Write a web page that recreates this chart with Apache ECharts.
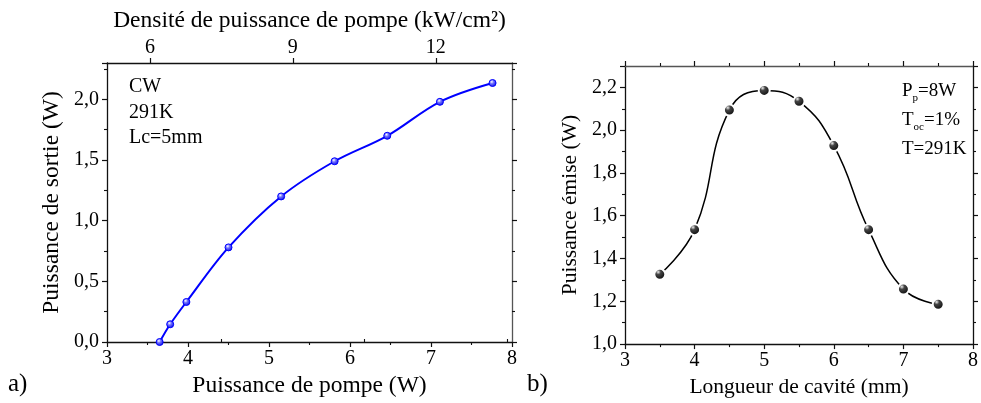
<!DOCTYPE html>
<html><head><meta charset="utf-8">
<script src="https://cdn.jsdelivr.net/npm/echarts@6/dist/echarts.min.js"></script>
<style>html,body{margin:0;padding:0;background:#fff}#c{width:981px;height:403px}</style>
</head><body><div id="c"></div>
<script>
// ---- data ----
const pumpPower = [3.65, 3.78, 3.98, 4.50, 5.15, 5.81, 6.46, 7.11, 7.76];
const outputPower = [0.00, 0.146, 0.33, 0.78, 1.20, 1.49, 1.70, 1.98, 2.135];
const densityTicks = [6, 9, 12];
const densityMinorTicks = [7.5, 10.5, 13.5];
const densityPerWatt = 1.7; // kW/cm2 per W of pump power
const cavityLength = [3.5, 4.0, 4.5, 5.0, 5.5, 6.0, 6.5, 7.0, 7.5];
const emittedPower = [1.326, 1.535, 2.094, 2.186, 2.135, 1.928, 1.535, 1.257, 1.186];
const annotA = ['CW', '291K', 'Lc=5mm'];

const F = "'Liberation Serif', 'Times New Roman', serif";
const AX = '#111';
const comma = (d) => (v) => v.toFixed(d).replace('.', ',');

const chart = echarts.init(document.getElementById('c'), null, {renderer: 'canvas'});

function baseAxis(extra) {
  return Object.assign({
    type: 'value',
    splitLine: {show: false},
    axisLine: {show: true, onZero: false, lineStyle: {color: AX, width: 1.3}},
    axisTick: {show: true, inside: false, length: 5, lineStyle: {color: AX, width: 1.2}},
    minorTick: {show: true, splitNumber: 2, length: 3, lineStyle: {color: AX, width: 1.1}},
    axisLabel: {show: true, fontFamily: F, fontSize: 20, color: '#000', margin: 7},
    nameTextStyle: {fontFamily: F, fontSize: 23.5, color: '#000'},
    nameLocation: 'middle'
  }, extra);
}
const smallName = {fontFamily: F, fontSize: 21.5, color: '#000'};

const blueBall = new echarts.graphic.RadialGradient(0.4, 0.35, 0.7, [
  {offset: 0, color: '#ffffff'}, {offset: 0.35, color: '#7070ff'}, {offset: 1, color: '#0000e0'}]);
const blackBall = new echarts.graphic.RadialGradient(0.38, 0.32, 0.7, [
  {offset: 0, color: '#f0f0f0'}, {offset: 0.28, color: '#444'}, {offset: 1, color: '#000'}]);

const option = {
  animation: false,
  backgroundColor: '#fff',
  grid: [
    {left: 107, top: 63, width: 405, height: 279},
    {left: 625, top: 66, width: 354, height: 282}
  ],
  xAxis: [
    baseAxis({gridIndex: 0, position: 'bottom', min: 3, max: 8, interval: 1,
      name: 'Puissance de pompe (W)', nameGap: 26}),
    baseAxis({gridIndex: 0, position: 'top', min: 3 * densityPerWatt, max: 8 * densityPerWatt,
      name: 'Densité de puissance de pompe (kW/cm²)', nameGap: 24,
      axisTick: {show: true, length: 5, customValues: densityTicks, lineStyle: {color: AX, width: 1.2}},
      axisLabel: {show: true, customValues: densityTicks, fontFamily: F, fontSize: 20, color: '#000', margin: 5},
      minorTick: {show: false}}),
    baseAxis({gridIndex: 0, position: 'top', min: 3 * densityPerWatt, max: 8 * densityPerWatt,
      axisLine: {show: false},
      axisTick: {show: true, length: 3, customValues: densityMinorTicks, lineStyle: {color: AX, width: 1.1}},
      axisLabel: {show: false}, minorTick: {show: false}}),
    baseAxis({gridIndex: 1, position: 'bottom', min: 3, max: 8, interval: 1,
      name: 'Longueur de cavité (mm)', nameGap: 28, nameTextStyle: smallName}),
    baseAxis({gridIndex: 1, position: 'top', min: 3, max: 8, interval: 1,
      axisLabel: {show: false}, axisLine: {show: true, onZero: false, lineStyle: {color: '#555', width: 1.3}}})
  ],
  yAxis: [
    baseAxis({gridIndex: 0, position: 'left', min: 0, max: 2.3, interval: 0.5,
      axisLabel: {show: true, showMaxLabel: false, formatter: comma(1), fontFamily: F, fontSize: 20, color: '#000', margin: 8},
      name: 'Puissance de sortie (W)', nameGap: 43}),
    baseAxis({gridIndex: 0, position: 'right', min: 0, max: 2.3, interval: 0.5,
      axisLabel: {show: false}, axisLine: {show: true, onZero: false, lineStyle: {color: '#555', width: 1.3}}}),
    baseAxis({gridIndex: 1, position: 'left', min: 1.0, max: 2.3, interval: 0.2,
      axisLabel: {show: true, showMaxLabel: false, formatter: comma(1), fontFamily: F, fontSize: 20, color: '#000', margin: 8},
      name: 'Puissance émise (W)', nameGap: 44, nameTextStyle: smallName}),
    baseAxis({gridIndex: 1, position: 'right', min: 1.0, max: 2.3, interval: 0.2,
      axisLabel: {show: false}})
  ],
  series: [
    {type: 'line', xAxisIndex: 0, yAxisIndex: 0, smooth: 0.35,
      data: pumpPower.map((x, i) => [x, outputPower[i]]),
      lineStyle: {color: '#0000ff', width: 2},
      symbol: 'circle', symbolSize: 7,
      itemStyle: {color: blueBall, borderColor: '#0000ff', borderWidth: 1}},
    {type: 'line', xAxisIndex: 3, yAxisIndex: 2, smooth: 0.45,
      data: cavityLength.map((x, i) => [x, emittedPower[i]]),
      lineStyle: {color: '#000', width: 1.5},
      symbol: 'circle', symbolSize: 11,
      itemStyle: {color: blackBall, borderColor: '#fff', borderWidth: 2}}
  ],
  graphic: [
    {type: 'text', left: 129, top: 74, style: {text: annotA.join('\n'), fontFamily: F, fontSize: 20, lineHeight: 25.5, fill: '#000'}},
    {type: 'text', left: 902, top: 79, style: {
      text: '{n|P}{s|p}{n|=8W}\n{n|T}{s|oc}{n|=1%}\n{n|T=291K}', fill: '#000',
      rich: {
        n: {fontFamily: F, fontSize: 19, lineHeight: 29, fill: '#000'},
        s: {fontFamily: F, fontSize: 11, lineHeight: 29, padding: [14, 0, 0, 0], fill: '#000'}
      }}},
    {type: 'text', left: 8, top: 372, style: {text: 'a)', fontFamily: F, fontSize: 25, fill: '#000'}},
    {type: 'text', left: 527, top: 372, style: {text: 'b)', fontFamily: F, fontSize: 25, fill: '#000'}}
  ]
};
chart.setOption(option);
</script>
</body></html>
